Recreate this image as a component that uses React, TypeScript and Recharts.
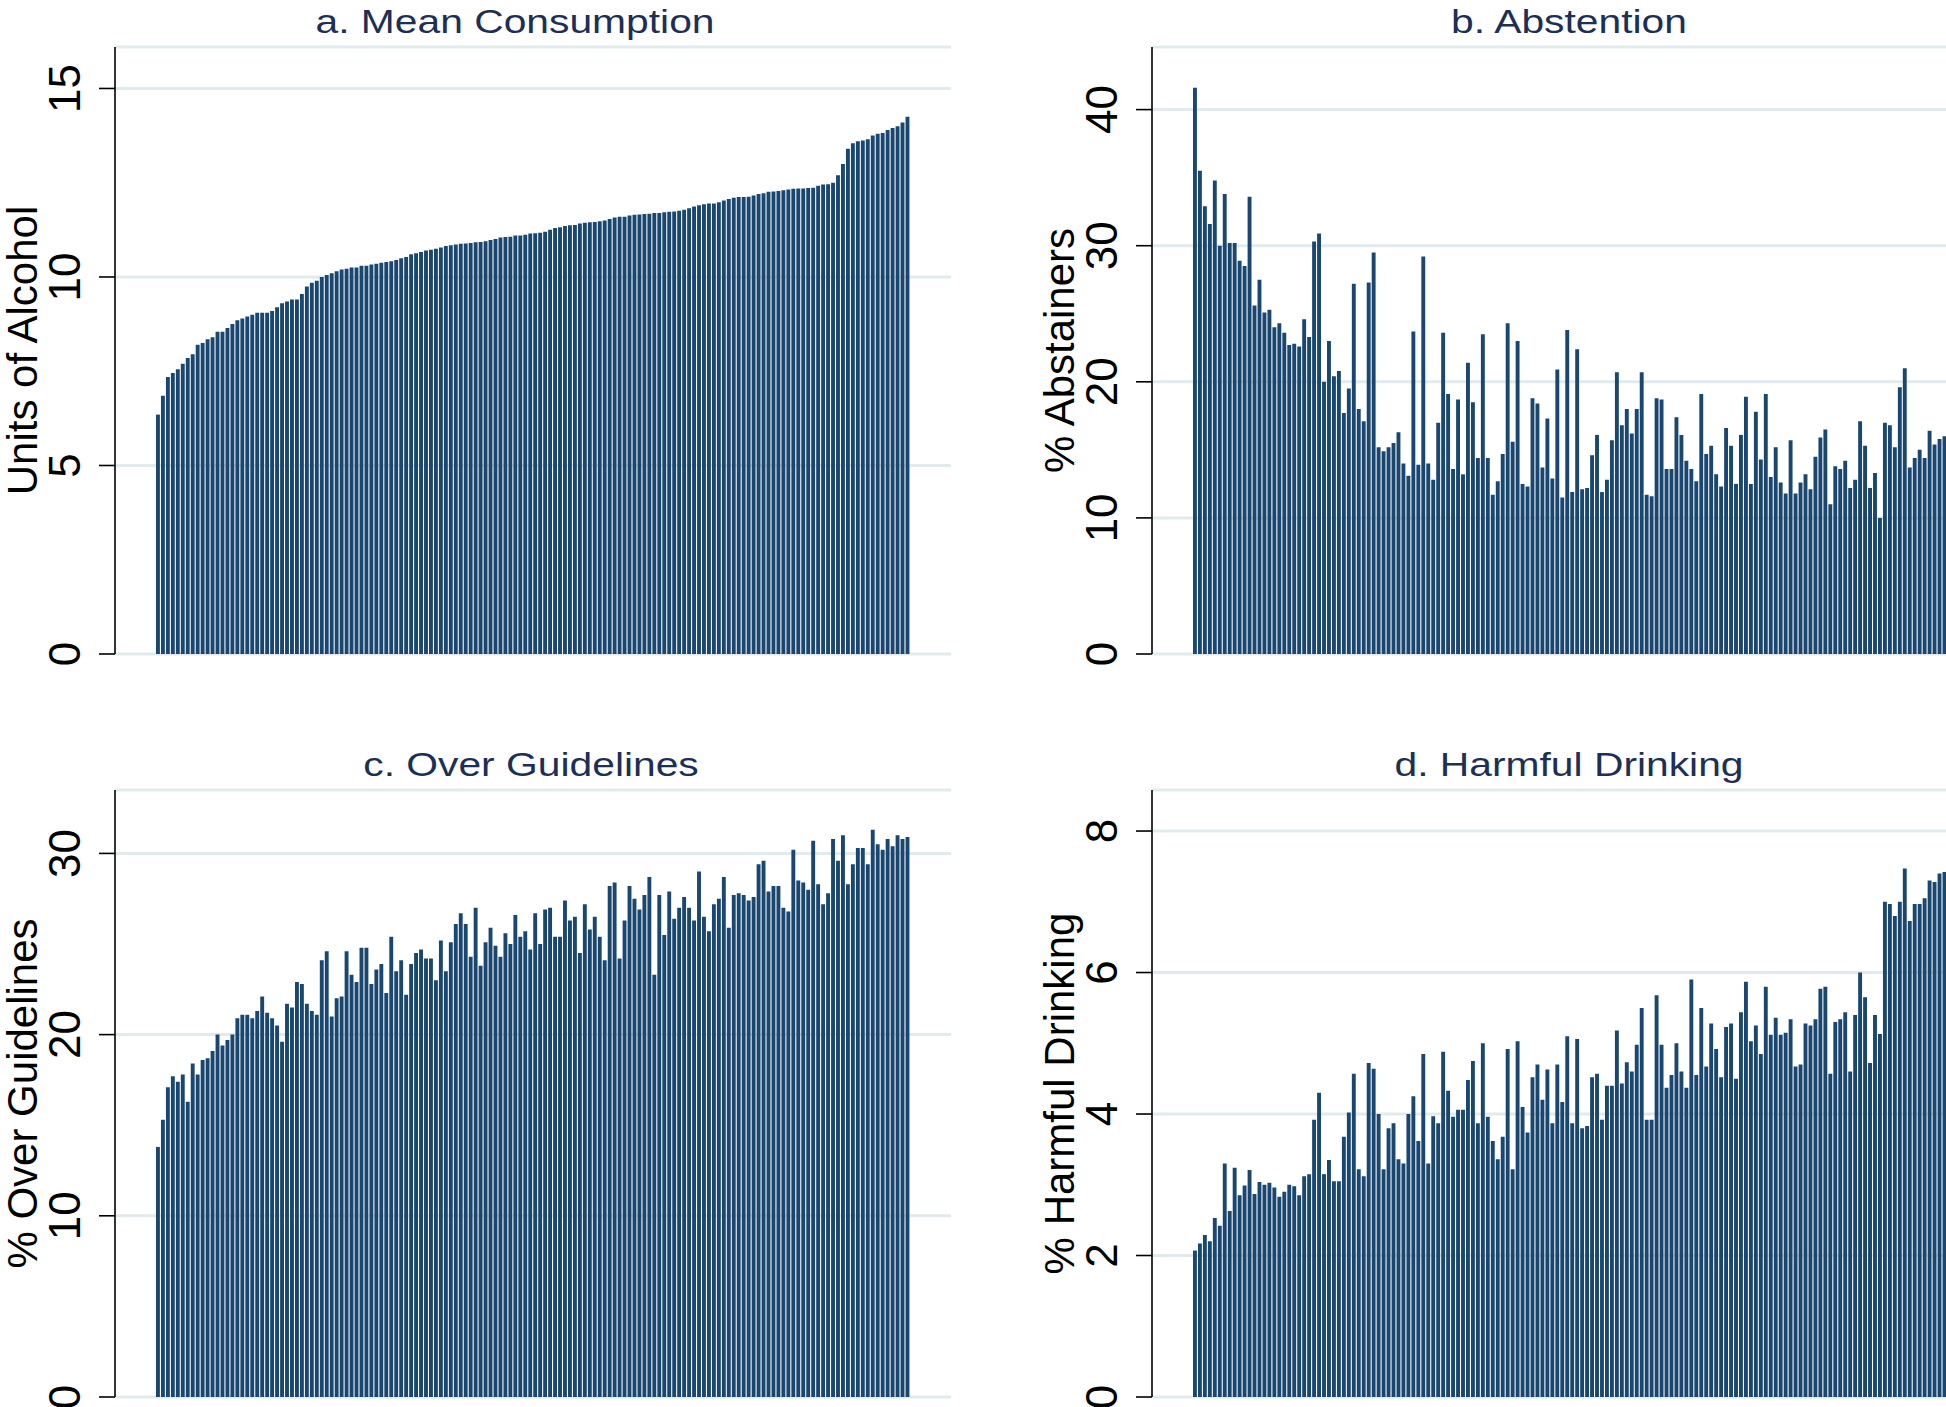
import React from 'react';
import { BarChart, Bar, XAxis, YAxis, CartesianGrid } from 'recharts';

// PCTs ordered by mean consumption (same order in every panel)
const meanUnits = [
  6.35, 6.85, 7.35, 7.45, 7.55, 7.7, 7.85, 7.95, 8.2, 8.25, 8.35, 8.4, 8.55, 8.55, 8.65, 8.75, 8.85, 8.9, 8.95, 9.0,
  9.05, 9.05, 9.05, 9.1, 9.2, 9.3, 9.35, 9.4, 9.4, 9.55, 9.75, 9.85, 9.9, 10.0, 10.05, 10.1, 10.15, 10.2, 10.22, 10.25,
  10.25, 10.3, 10.3, 10.33, 10.35, 10.38, 10.4, 10.42, 10.45, 10.5, 10.53, 10.6, 10.63, 10.66, 10.7, 10.72, 10.75, 10.78, 10.82, 10.84,
  10.86, 10.88, 10.89, 10.9, 10.92, 10.93, 10.95, 10.98, 11.01, 11.05, 11.06, 11.07, 11.1, 11.1, 11.12, 11.15, 11.16, 11.17, 11.2, 11.25,
  11.3, 11.32, 11.35, 11.37, 11.38, 11.42, 11.44, 11.45, 11.46, 11.48, 11.5, 11.54, 11.58, 11.6, 11.6, 11.63, 11.65, 11.66, 11.67, 11.68,
  11.7, 11.7, 11.72, 11.73, 11.74, 11.76, 11.78, 11.82, 11.87, 11.9, 11.93, 11.95, 11.95, 11.98, 12.03, 12.07, 12.1, 12.12, 12.12, 12.13,
  12.16, 12.2, 12.22, 12.26, 12.27, 12.28, 12.3, 12.32, 12.34, 12.35, 12.35, 12.36, 12.37, 12.42, 12.45, 12.46, 12.5, 12.7, 13.0, 13.4,
  13.55, 13.6, 13.62, 13.65, 13.75, 13.8, 13.82, 13.9, 13.95, 14.0, 14.1, 14.25,
];

const abstainers = [
  41.6, 35.5, 32.9, 31.6, 34.8, 30.0, 33.8, 30.2, 30.2, 28.9, 28.5, 33.6, 25.6, 27.5, 25.1, 25.3, 24.0, 24.3, 23.6, 22.7,
  22.8, 22.6, 24.6, 23.3, 30.3, 30.9, 20.0, 23.0, 20.4, 20.8, 17.7, 19.5, 27.2, 18.0, 17.1, 27.3, 29.5, 15.2, 14.9, 15.2,
  15.5, 16.3, 14.0, 13.1, 23.7, 13.9, 29.2, 14.0, 12.8, 17.0, 23.6, 19.1, 13.6, 18.7, 13.2, 21.4, 18.5, 14.4, 23.5, 14.4,
  11.7, 12.7, 14.7, 24.3, 15.6, 23.0, 12.5, 12.3, 18.8, 18.4, 13.7, 17.3, 12.9, 20.9, 11.5, 23.8, 11.9, 22.4, 12.1, 12.2,
  14.6, 16.1, 11.9, 12.8, 15.7, 20.7, 16.8, 18.0, 16.2, 18.0, 20.7, 11.7, 11.6, 18.8, 18.7, 13.6, 13.6, 17.4, 16.1, 14.2,
  13.6, 12.7, 19.1, 14.7, 15.3, 13.2, 12.3, 16.6, 15.3, 12.5, 16.1, 18.9, 12.5, 17.8, 14.3, 19.1, 13.0, 15.2, 12.6, 11.8,
  15.7, 11.8, 12.6, 13.2, 12.1, 14.5, 15.9, 16.5, 11.0, 13.8, 13.6, 14.2, 12.2, 12.8, 17.1, 15.3, 12.2, 13.3, 10.0, 17.0,
  16.8, 15.2, 19.6, 21.0, 13.7, 14.4, 15.0, 14.4, 16.4, 15.4, 15.8, 16.0,
];

const overGuidelines = [
  13.8, 15.3, 17.1, 17.7, 17.4, 17.8, 16.3, 18.4, 17.8, 18.6, 18.7, 19.1, 20.0, 19.4, 19.7, 20.0, 20.9, 21.1, 21.1, 20.9,
  21.3, 22.1, 21.2, 20.9, 20.5, 19.6, 21.7, 21.5, 22.9, 22.8, 21.7, 21.3, 21.1, 24.1, 24.6, 21.0, 22.0, 22.1, 24.6, 23.3,
  22.9, 24.8, 24.8, 22.8, 23.6, 23.9, 22.3, 25.4, 23.5, 24.1, 22.2, 23.9, 24.5, 24.7, 24.2, 24.2, 23.0, 25.2, 23.5, 25.1,
  26.1, 26.7, 26.1, 24.3, 27.0, 23.8, 25.1, 25.9, 24.9, 24.3, 25.6, 25.0, 26.6, 25.4, 25.7, 24.7, 26.7, 25.0, 26.9, 27.0,
  25.4, 25.4, 27.4, 26.3, 26.5, 24.5, 27.2, 25.8, 26.5, 25.4, 24.1, 28.2, 28.4, 24.2, 26.3, 28.2, 27.5, 26.9, 27.7, 28.7,
  23.3, 27.7, 25.5, 27.9, 26.4, 27.0, 27.6, 27.0, 26.3, 29.0, 26.5, 25.7, 27.2, 27.5, 28.7, 25.9, 27.7, 27.8, 27.7, 27.4,
  27.6, 29.4, 29.6, 27.9, 28.2, 28.2, 27.0, 26.8, 30.2, 28.5, 28.4, 28.0, 30.7, 28.3, 27.2, 27.8, 30.8, 29.6, 31.0, 28.3,
  29.4, 30.3, 30.3, 29.4, 31.3, 30.5, 30.2, 30.8, 30.4, 31.0, 30.8, 30.9,
];

const harmful = [
  2.07, 2.17, 2.29, 2.2, 2.53, 2.42, 3.3, 2.63, 3.24, 2.85, 2.99, 3.21, 2.87, 3.04, 3.0, 3.03, 2.96, 2.83, 2.9, 3.0,
  2.98, 2.85, 3.12, 3.15, 3.92, 4.3, 3.15, 3.35, 3.05, 3.05, 3.68, 4.02, 4.57, 3.22, 3.12, 4.72, 4.64, 4.0, 3.22, 3.8,
  3.87, 3.36, 3.3, 4.0, 4.25, 3.62, 4.85, 3.3, 3.97, 3.87, 4.88, 4.33, 3.96, 4.06, 4.06, 4.48, 4.75, 3.87, 5.0, 3.96,
  3.62, 3.36, 3.68, 4.92, 3.22, 5.03, 4.1, 3.74, 4.52, 4.7, 4.2, 4.63, 3.87, 4.7, 4.17, 5.1, 3.87, 5.06, 3.8, 3.83,
  4.52, 4.57, 3.92, 4.4, 4.4, 5.18, 4.43, 4.73, 4.6, 4.98, 5.5, 3.92, 3.92, 5.68, 4.98, 4.37, 4.55, 5.0, 4.6, 4.37,
  5.9, 4.55, 5.5, 4.67, 5.28, 4.92, 4.52, 5.23, 5.28, 4.5, 5.44, 5.87, 5.03, 5.25, 4.85, 5.8, 5.12, 5.36, 5.12, 5.15,
  5.34, 4.67, 4.7, 5.28, 5.25, 5.34, 5.77, 5.8, 4.57, 5.3, 5.34, 5.44, 4.6, 5.4, 6.0, 5.65, 4.72, 5.4, 5.13, 7.0,
  6.97, 6.8, 7.0, 7.47, 6.73, 6.97, 6.97, 7.05, 7.3, 7.28, 7.4, 7.42,
];

const ticksMean = [0, 5, 10, 15];
const ticksAbst = [0, 10, 20, 30, 40];
const ticksOver = [0, 10, 20, 30];
const ticksHarm = [0, 2, 4, 6, 8];

const FONT = '"Liberation Sans", Arial, Helvetica, sans-serif';
const BAR_COLOR = '#1a476f';
const GRID_COLOR = '#e1ebee';
const TITLE_COLOR = '#1c2f57';

const W = 973;
const H = 703;
const AXIS_W = 115;
const TICK_BASE = 80; // baseline x of the rotated tick labels
const TITLE_BASE = 37; // baseline x of the rotated axis title

// Stata-style vertical tick labels
const RotTick = (props: any) => {
  const { y, payload } = props;
  return (
    <text
      transform={`translate(${TICK_BASE},${y}) rotate(-90)`}
      textAnchor="middle"
      fontSize={44}
      fontFamily={FONT}
      fill="#000"
    >
      {payload.value}
    </text>
  );
};

interface PanelProps {
  left: number;
  top: number;
  values: number[];
  domain: [number, number];
  ticks: number[];
  title: string;
  titleX: number;
  yTitle: string;
}

const Panel = ({ left, top, values, domain, ticks, title, titleX, yTitle }: PanelProps) => {
  const data = values.map((v, i) => ({ pct: i + 1, v }));
  return (
    <div style={{ position: 'absolute', left, top, width: W, height: H }}>
      <BarChart width={W} height={H} data={data} margin={{ top: 47, right: 22, bottom: 49, left: 0 }}>
        <CartesianGrid vertical={false} stroke={GRID_COLOR} strokeWidth={3} />
        <XAxis dataKey="pct" hide padding={{ left: 40, right: 41.5 }} />
        <YAxis
          type="number"
          domain={domain}
          ticks={ticks}
          interval={0}
          width={AXIS_W}
          tickSize={16}
          axisLine={{ stroke: '#000', strokeWidth: 1.6 }}
          tickLine={{ stroke: '#000', strokeWidth: 1.6 }}
          tick={<RotTick />}
        />
        <Bar dataKey="v" fill={BAR_COLOR} barSize={3.9} isAnimationActive={false} />
      </BarChart>
      <svg
        width={W}
        height={H}
        style={{ position: 'absolute', left: 0, top: 0, pointerEvents: 'none' }}
      >
        <g transform={`translate(${titleX},33) scale(1.2,1)`}>
          <text x={0} y={0} textAnchor="middle" fontSize={34} fontFamily={FONT} fill={TITLE_COLOR}>
            {title}
          </text>
        </g>
        <text
          transform={`translate(${TITLE_BASE},350.5) rotate(-90)`}
          textAnchor="middle"
          fontSize={42}
          fontFamily={FONT}
          fill="#000"
        >
          {yTitle}
        </text>
      </svg>
    </div>
  );
};

export default function App() {
  return (
    <div
      style={{
        position: 'absolute',
        left: 0,
        top: 0,
        width: 1946,
        height: 1407,
        overflow: 'hidden',
        background: '#fff',
      }}
    >
      <Panel left={0} top={0} values={meanUnits} domain={[0, 16.1]} ticks={ticksMean}
        title="a. Mean Consumption" titleX={515} yTitle="Units of Alcohol" />
      <Panel left={1037} top={0} values={abstainers} domain={[0, 44.6]} ticks={ticksAbst}
        title="b. Abstention" titleX={532} yTitle="% Abstainers" />
      <Panel left={0} top={743} values={overGuidelines} domain={[0, 33.5]} ticks={ticksOver}
        title="c. Over Guidelines" titleX={531} yTitle="% Over Guidelines" />
      <Panel left={1037} top={743} values={harmful} domain={[0, 8.58]} ticks={ticksHarm}
        title="d. Harmful Drinking" titleX={532} yTitle="% Harmful Drinking" />
    </div>
  );
}
